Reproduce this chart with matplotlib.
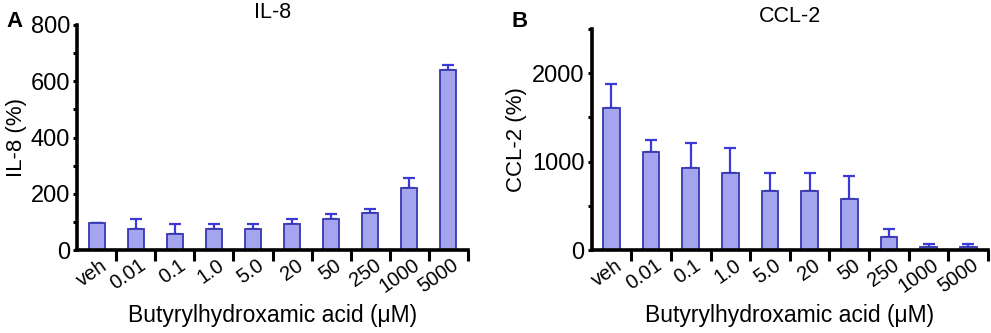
import numpy as np
import matplotlib
matplotlib.use('agg')
import matplotlib.pyplot as plt
from matplotlib.ticker import MultipleLocator

plt.rcParams['font.family'] = ['Liberation Sans', 'DejaVu Sans']

doses = ['veh', '0.01', '0.1', '1.0', '5.0', '20', '50', '250', '1000', '5000']

il8_mean = [95, 74, 56, 74, 74, 92, 111, 131, 221, 639]
il8_err = [0, 37, 36, 19, 19, 19, 19, 15, 36, 19]

ccl2_mean = [1611, 1109, 928, 872, 668, 668, 581, 151, 38, 38]
ccl2_err = [268, 133, 287, 286, 200, 200, 261, 83, 26, 34]

bar_face = '#a4a4ef'
bar_edge = '#3838b0'
err_col = '#3a3ad8'


def draw_panel(ax, mean, err, title, ylabel, ymax, major, minor, ylab_x):
    x = np.arange(len(doses))
    ax.bar(x, mean, width=0.42, color=bar_face, edgecolor=bar_edge,
           linewidth=1.3, zorder=2)
    ax.errorbar(x, mean, yerr=[np.zeros(len(err)), err], fmt='none',
                ecolor=err_col, elinewidth=1.6, capsize=4, capthick=1.6,
                zorder=1)

    ax.set_xlim(-0.5, 9.5)
    ax.set_ylim(0, ymax)
    ax.yaxis.set_major_locator(MultipleLocator(major))
    ax.yaxis.set_minor_locator(MultipleLocator(minor))

    # labels under bars, tick marks between bars
    ax.set_xticks(x + 0.08)
    ax.set_xticklabels(doses, rotation=35, ha='right',
                       rotation_mode='anchor', fontsize=14.5)
    ax.tick_params(axis='x', which='major', length=0, pad=4)
    ax.set_xticks(x + 0.5, minor=True)
    ax.tick_params(axis='x', which='minor', length=8, width=2.2)
    ax.tick_params(axis='y', which='major', length=3, width=2.2,
                   labelsize=17, pad=2)
    ax.tick_params(axis='y', which='minor', length=3, width=2.2)

    for s in ('top', 'right'):
        ax.spines[s].set_visible(False)
    for s in ('left', 'bottom'):
        ax.spines[s].set_linewidth(2.6)

    ax.set_title(title, fontsize=15.5, pad=5)
    ax.set_ylabel(ylabel, fontsize=16)
    ax.yaxis.set_label_coords(ylab_x, 0.5)
    ax.set_xlabel('Butyrylhydroxamic acid (μM)', fontsize=16.5, labelpad=5)


fig = plt.figure(figsize=(9.91, 3.33), dpi=100)
ax1 = fig.add_axes([0.078, 0.249, 0.394, 0.676])
ax2 = fig.add_axes([0.597, 0.249, 0.400, 0.664])

draw_panel(ax1, il8_mean, il8_err, 'IL-8', 'IL-8 (%)', 800, 200, 100, -0.13)
draw_panel(ax2, ccl2_mean, ccl2_err, 'CCL-2', 'CCL-2 (%)', 2500, 1000, 500,
           -0.162)

fig.text(0.006, 0.935, 'A', fontsize=16, fontweight='bold', va='center')
fig.text(0.516, 0.935, 'B', fontsize=16, fontweight='bold', va='center')

fig.savefig('out.png', dpi=100)
